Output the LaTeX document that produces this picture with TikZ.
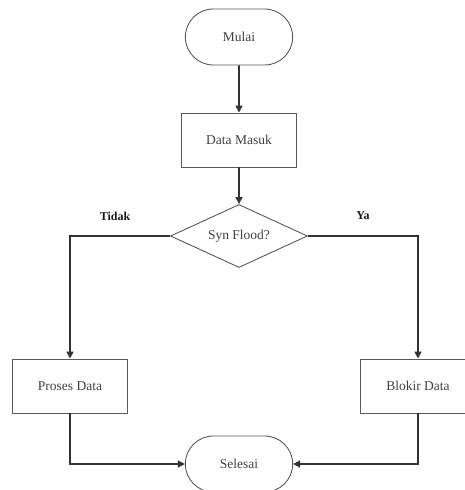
\documentclass[tikz,border=0pt]{standalone}
\usepackage{fontspec}
\setmainfont{Liberation Serif}
\usetikzlibrary{shapes.geometric, shapes.misc, arrows.meta, positioning}

\tikzset{
    terminal/.style={rounded rectangle, draw=black!65, line width=0.9pt, minimum width=114pt, minimum height=56pt, text=black!75, font=\fontsize{13.5}{16}\selectfont},
    process/.style={rectangle, draw=black!65, line width=0.9pt, minimum width=115pt, minimum height=54pt, text=black!75, font=\fontsize{13.5}{16}\selectfont},
    decision/.style={diamond, draw=black!65, line width=0.9pt, aspect=2.17, minimum width=137pt, minimum height=63pt, inner sep=0pt, text=black!75, font=\fontsize{13.5}{16}\selectfont},
    flowline/.style={draw=black!80, line width=1.6pt, -{Triangle[length=7pt, width=7pt]}},
    branch/.style={text=black!90, font=\bfseries\fontsize{12}{14}\selectfont}
}

\begin{document}
\begin{tikzpicture}[x=1pt, y=-1pt]
        \useasboundingbox (0, 0) rectangle (465, 490);

        % Main steps
        \node[terminal] (mulai) at (239, 37) {Mulai};
        \node[process] (masuk) at (239, 140) {Data Masuk};
        \node[decision] (synflood) at (239, 236) {Syn Flood?};
        \node[process] (proses) at (70, 386) {Proses Data};
        \node[process] (blokir) at (418, 386) {Blokir Data};
        \node[terminal] (selesai) at (239, 464) {Selesai};

        % Branch labels
        \node[branch] (tidak) at (115, 216) {Tidak};
        \node[branch] (ya) at (363, 216) {Ya};

        % Flow
        \draw[flowline] (mulai) -- (masuk);
        \draw[flowline] (masuk) -- (synflood);
        \draw[flowline] (synflood.west) -| (proses.north);
        \draw[flowline] (synflood.east) -| (blokir.north);
        \draw[flowline] (proses.south) |- (selesai.west);
        \draw[flowline] (blokir.south) |- (selesai.east);
    \end{tikzpicture}
\end{document}
